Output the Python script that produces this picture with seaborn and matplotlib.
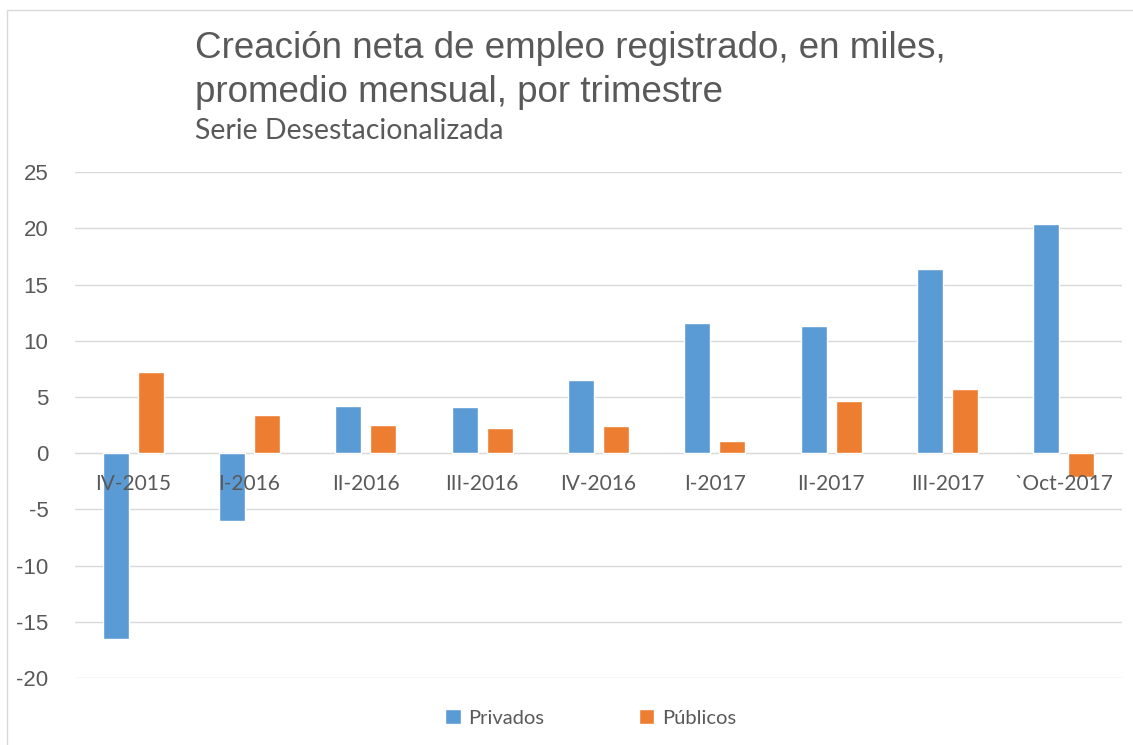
import pandas as pd
import matplotlib.pyplot as plt
import seaborn as sns
from matplotlib.patches import Rectangle

# datos
trimestres = ["IV-2015", "I-2016", "II-2016", "III-2016", "IV-2016",
              "I-2017", "II-2017", "III-2017", "`Oct-2017"]
privados = [-16.5, -6.0, 4.2, 4.1, 6.5, 11.6, 11.3, 16.4, 20.4]
publicos = [7.2, 3.4, 2.5, 2.2, 2.4, 1.1, 4.6, 5.7, -2.1]

df = pd.DataFrame({
    "trimestre": trimestres * 2,
    "valor": privados + publicos,
    "sector": ["Privados"] * len(trimestres) + ["Públicos"] * len(trimestres),
})

sns.set_style("white")
plt.rcParams["font.family"] = ["Liberation Sans", "DejaVu Sans"]
plt.rcParams["axes.unicode_minus"] = False

fig = plt.figure(figsize=(11.33, 7.45), dpi=100)
ax = fig.add_axes([75 / 1133, 0.090, 1047 / 1133, 0.679])

sns.barplot(data=df, x="trimestre", y="valor", hue="sector",
            palette=["#5B9BD5", "#ED7D31"], width=0.6, gap=0.25,
            saturation=1, ax=ax, zorder=3)

ax.set_ylim(-20, 25)
ax.set_yticks(range(-20, 26, 5))
ax.set_xlim(-0.5, len(trimestres) - 0.5)
ax.set_xlabel("")
ax.set_ylabel("")
ax.grid(axis="y", color="#d9d9d9", linewidth=1, zorder=0)
ax.set_axisbelow(True)
ax.xaxis.set_zorder(5)

for s in ["top", "right", "left"]:
    ax.spines[s].set_visible(False)
ax.spines["bottom"].set_position(("data", 0))
ax.spines["bottom"].set_color("#d9d9d9")
ax.spines["bottom"].set_zorder(1)

ax.tick_params(axis="y", length=0, labelsize=16, labelcolor="#595959", pad=19)
ax.tick_params(axis="x", length=0, labelsize=15, labelcolor="#595959", pad=15)
for lbl in ax.get_xticklabels():
    lbl.set_fontfamily(["Lato", "DejaVu Sans"])

leg = ax.legend(loc="center", bbox_to_anchor=(591 / 1133, 1 - 718 / 745),
                bbox_transform=fig.transFigure,
                ncol=2, frameon=False, handlelength=0.75, handleheight=0.75,
                handletextpad=0.4, columnspacing=4.7,
                prop={"family": ["Lato", "DejaVu Sans"], "size": 14.5})
for t in leg.get_texts():
    t.set_color("#595959")

fig.text(195 / 1133, 1 - 48 / 745, "Creación neta de empleo registrado, en miles,",
         fontsize=26.5, color="#595959", va="center")
fig.text(195 / 1133, 1 - 92 / 745, "promedio mensual, por trimestre",
         fontsize=26.5, color="#595959", va="center")
fig.text(195 / 1133, 1 - 131 / 745, "Serie Desestacionalizada", fontsize=20.5, color="#595959",
         va="center", family=["Lato", "DejaVu Sans"])

fig.patches.append(Rectangle((0.006, -0.01), 1.0, 0.997, transform=fig.transFigure,
                             fill=False, edgecolor="#d9d9d9", linewidth=1))

fig.savefig("out.png", dpi=100)
